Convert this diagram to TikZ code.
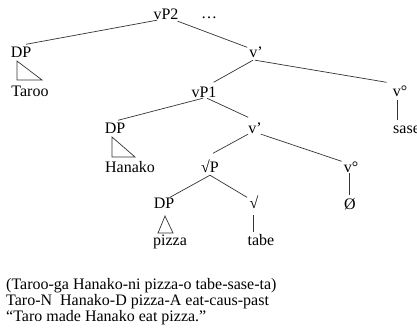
\documentclass[tikz,border=0pt]{standalone}
\usepackage{fontspec}
\setmainfont{Liberation Serif}
\begin{document}
\begin{tikzpicture}[x=1pt,y=-1pt,
  lbl/.style={inner sep=0pt, anchor=base, text height=10.5pt, text depth=0pt,
              font=\fontsize{16}{17}\selectfont},
  lblw/.style={lbl, anchor=base west},
  gloss/.style={inner sep=0pt, anchor=base west, font=\fontsize{16}{17}\selectfont},
  branch/.style={draw=black!80, line width=0.7pt},
  roof/.style={draw=black!80, line width=0.7pt, line join=miter}]
\useasboundingbox (0,0) rectangle (417,329);

% labels of the tree
\node[lbl] (vPtwo) at (166,20) {vP2};
\node[lbl] (dots) at (209,19) {…};
\node[lbl] (dpA) at (21,58) {DP};
\node[lbl] (taroo) at (30,96) {Taroo};
\node[lbl] (vbarA) at (256,58) {v'};
\node[lbl] (vdegA) at (400,96) {v°};
\node[lblw] (sase) at (393,133) {sase};
\node[lbl] (vPone) at (204,97) {vP1};
\node[lbl] (dpB) at (115,133) {DP};
\node[lbl] (hanako) at (130,172) {Hanako};
\node[lbl] (vbarB) at (255,133) {v'};
\node[lbl] (vdegB) at (351,172) {v°};
\node[lbl] (null) at (350,209) {Ø};
\node[lbl] (rootP) at (210,172) {√P};
\node[lbl] (dpC) at (164,208) {DP};
\node[lbl] (pizza) at (170,245) {pizza};
\node[lbl] (root) at (254,208) {√};
\node[lbl] (tabe) at (261,245) {tabe};

% branches
\draw[branch] ([xshift=-9pt]vPtwo.south) -- ([xshift=5pt,yshift=3pt]dpA.north);
\draw[branch] ([xshift=-1pt,yshift=-1pt]vPtwo.south east) -- ([xshift=-2pt]vbarA.north west);
\draw[branch] ([xshift=-3pt,yshift=-2pt]vbarA.south) -- ([xshift=-3pt,yshift=4pt]vPone.north east);
\draw[branch] ([xshift=-1pt,yshift=-2pt]vbarA.south) -- ([xshift=-6pt,yshift=3pt]vdegA.north west);
\draw[branch] ([xshift=-3pt,yshift=-4pt]vdegA.south) -- ([xshift=-3pt,yshift=2.5pt]vdegA.south |- sase.north);
\draw[branch] ([xshift=-1pt,yshift=-1pt]vPone.south) -- ([xshift=3pt,yshift=2pt]dpB.north);
\draw[branch] ([xshift=3pt,yshift=-1pt]vPone.south) -- ([yshift=5pt]vbarB.north west);
\draw[branch] ([xshift=-7pt,yshift=-1pt]vbarB.south) -- ([xshift=3pt,yshift=8pt]rootP.north);
\draw[branch] ([xshift=6pt,yshift=-1pt]vbarB.south) -- ([xshift=-2pt]vdegB.north west);
\draw[branch] ([xshift=-2pt,yshift=-1pt]vdegB.south) -- ([xshift=-2pt,yshift=3.5pt]vdegB.south |- null.north);
\draw[branch] ([yshift=-3pt]rootP.south) -- ([xshift=6pt]dpC.north);
\draw[branch] ([yshift=-3pt]rootP.south) -- ([xshift=-7pt]root.north);
\draw[branch] ([xshift=-1pt,yshift=-7pt]root.south) -- ([xshift=-1pt,yshift=2.5pt]root.south |- tabe.north);

% triangles over unanalysed phrases
\draw[roof] (17,61) -- (17,80) -- (42,80) -- cycle;
\draw[roof] (112,137) -- (112,157) -- (135,157) -- cycle;
\draw[roof] (165,216) -- (158,233) -- (173,233) -- cycle;

% gloss below the tree
\node[gloss] (lineA) at (6,289) {(Taroo-ga Hanako-ni pizza-o tabe-sase-ta)};
\node[gloss] (lineB) at (6,305) {Taro-N\ \ Hanako-D pizza-A eat-caus-past};
\node[gloss] (lineC) at (6,321) {“Taro made Hanako eat pizza.”};
\end{tikzpicture}
\end{document}
